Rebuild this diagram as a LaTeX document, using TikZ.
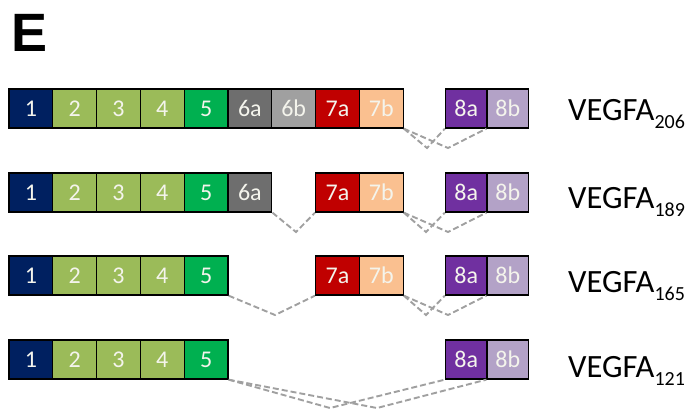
\documentclass[tikz,border=0pt]{standalone}
\usepackage{fontspec}
\setmainfont{Carlito}
\newfontfamily\lsans{Liberation Sans}
\definecolor{cnavy}{HTML}{002060}
\definecolor{colive}{HTML}{9BBB59}
\definecolor{cgreen}{HTML}{00B050}
\definecolor{cgraydk}{HTML}{6E6E6E}
\definecolor{cgraylt}{HTML}{A0A0A0}
\definecolor{cred}{HTML}{C00000}
\definecolor{cpeach}{HTML}{FAC090}
\definecolor{cpurple}{HTML}{7030A0}
\definecolor{clilac}{HTML}{B3A2C7}
\definecolor{cdash}{HTML}{A0A0A0}
\definecolor{ctext}{HTML}{F4F4EC}
\begin{document}
\begin{tikzpicture}[x=1pt,y=-1pt,
  exonbox/.style={draw=black, line width=1.3pt, minimum width=43.8pt, minimum height=39pt,
    inner sep=0pt, text=ctext, font=\fontsize{24}{24}\selectfont},
  exon8/.style={exonbox, minimum width=41.5pt},
  splice/.style={draw=cdash, line width=1.9pt, dash pattern=on 6pt off 3pt},
  isolabel/.style={anchor=base west, inner sep=0pt, font=\fontsize{32.5}{32.5}\selectfont}]
\useasboundingbox (0,0) rectangle (695,408);
\node[anchor=base west, inner sep=0pt, font=\lsans\bfseries\fontsize{54}{54}\selectfont] (E) at (11,51) {E};
% x centres
\def\xa{30.9}\def\xb{74.7}\def\xc{118.5}\def\xd{162.3}\def\xe{206.1}
\def\xfa{249.9}\def\xfb{293.7}\def\xga{337.5}\def\xgb{381.3}
\def\xha{466.25}\def\xhb{507.75}
\foreach \r/\y in {1/108.5,2/192.5,3/275.5,4/359.5}{
  \node[exonbox, fill=cnavy] (r\r e1) at (\xa,\y) {1};
  \node[exonbox, fill=colive] (r\r e2) at (\xb,\y) {2};
  \node[exonbox, fill=colive] (r\r e3) at (\xc,\y) {3};
  \node[exonbox, fill=colive] (r\r e4) at (\xd,\y) {4};
  \node[exonbox, fill=cgreen] (r\r e5) at (\xe,\y) {5};
  \node[exon8, fill=cpurple] (r\r e8a) at (\xha,\y) {8a};
  \node[exon8, fill=clilac] (r\r e8b) at (\xhb,\y) {8b};
}
\node[exonbox, fill=cgraydk] (r1e6a) at (\xfa,108.5) {6a};
\node[exonbox, fill=cgraylt] (r1e6b) at (\xfb,108.5) {6b};
\node[exonbox, fill=cred] (r1e7a) at (\xga,108.5) {7a};
\node[exonbox, fill=cpeach] (r1e7b) at (\xgb,108.5) {7b};
\node[exonbox, fill=cgraydk] (r2e6a) at (\xfa,192.5) {6a};
\node[exonbox, fill=cred] (r2e7a) at (\xga,192.5) {7a};
\node[exonbox, fill=cpeach] (r2e7b) at (\xgb,192.5) {7b};
\node[exonbox, fill=cred] (r3e7a) at (\xga,275.5) {7a};
\node[exonbox, fill=cpeach] (r3e7b) at (\xgb,275.5) {7b};
% labels
\node[isolabel] (l1) at (568,120) {VEGFA\raisebox{-8.5pt}{\fontsize{20}{20}\selectfont 206}};
\node[isolabel] (l2) at (568,208) {VEGFA\raisebox{-8.5pt}{\fontsize{20}{20}\selectfont 189}};
\node[isolabel] (l3) at (568,292) {VEGFA\raisebox{-8.5pt}{\fontsize{20}{20}\selectfont 165}};
\node[isolabel] (l4) at (568,377) {VEGFA\raisebox{-8.5pt}{\fontsize{20}{20}\selectfont 121}};
% splice junction vertices
\coordinate (v1a) at (427,148); \coordinate (v1b) at (448,148);
\coordinate (v2c) at (296,232); \coordinate (v2a) at (426,232); \coordinate (v2b) at (448,232);
\coordinate (v3c) at (275,315); \coordinate (v3a) at (426,315); \coordinate (v3b) at (448,315);
\coordinate (v4a) at (330,408); \coordinate (v4b) at (377,408);
% splice lines
\draw[splice] (r1e7b.south east) -- (v1a) -- (r1e8a.south west);
\draw[splice] (r1e7b.south east) -- (v1b) -- (r1e8b.south west);
\draw[splice] (r2e6a.south east) -- (v2c) -- (r2e7a.south west);
\draw[splice] (r2e7b.south east) -- (v2a) -- (r2e8a.south west);
\draw[splice] (r2e7b.south east) -- (v2b) -- (r2e8b.south west);
\draw[splice] (r3e5.south east) -- (v3c) -- (r3e7a.south west);
\draw[splice] (r3e7b.south east) -- (v3a) -- (r3e8a.south west);
\draw[splice] (r3e7b.south east) -- (v3b) -- (r3e8b.south west);
\draw[splice] (r4e5.south east) -- (v4a) -- (r4e8a.south west);
\draw[splice] (r4e5.south east) -- (v4b) -- (r4e8b.south west);
\end{tikzpicture}
\end{document}
